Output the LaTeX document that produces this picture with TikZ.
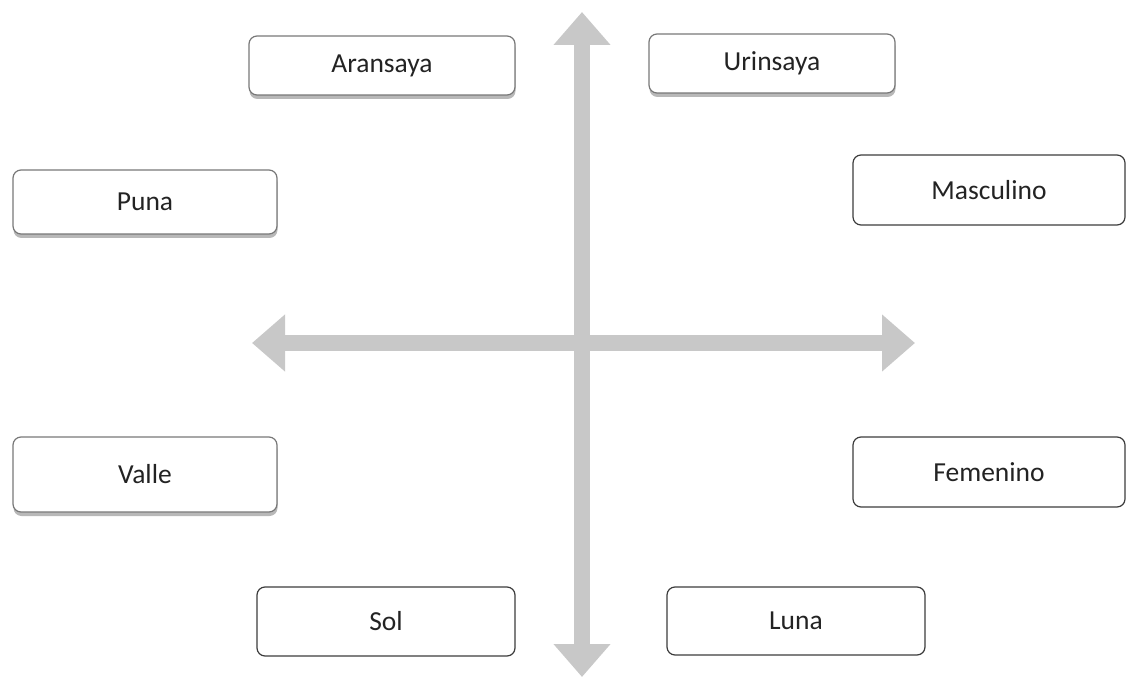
\documentclass[tikz,border=0pt]{standalone}
\usepackage{fontspec}
\setmainfont{Carlito}
\usetikzlibrary{arrows.meta,shadows}
\definecolor{arrowgray}{RGB}{200,200,200}
\definecolor{txt}{RGB}{35,35,35}
\tikzset{
  box/.style={draw, rounded corners=8pt, fill=white, line width=1.2pt, text=txt,
    font=\fontsize{27.5}{33}\selectfont, inner sep=0pt},
  shbox/.style={box, draw={rgb,255:red,120;green,120;blue,120},
    drop shadow={shadow xshift=0.5pt, shadow yshift=-4pt, fill=black, opacity=0.28}},
  plainbox/.style={box, draw={rgb,255:red,60;green,60;blue,60}},
  bigarrow/.style={draw=arrowgray, line width=16pt,
    {Triangle[width=55pt,length=33pt,fill=arrowgray]}-{Triangle[width=55pt,length=33pt,fill=arrowgray]}}
}
\begin{document}
\begin{tikzpicture}[x=1pt,y=-1pt]
\useasboundingbox (0,0) rectangle (1127,679);
% axes
\coordinate (top) at (582,12);
\coordinate (bottom) at (582,677);
\coordinate (left) at (252,343);
\coordinate (right) at (915,343);
\draw[bigarrow] (bottom) -- (top);
\draw[bigarrow] (left) -- (right);
% boxes
\node[shbox, minimum width=266pt, minimum height=59pt] (aransaya) at (382,65.5) {Aransaya};
\node[shbox, minimum width=246pt, minimum height=59pt] (urinsaya) at (772,63.5) {Urinsaya};
\node[shbox, minimum width=264pt, minimum height=64pt] (puna) at (145,202) {Puna};
\node[shbox, minimum width=264pt, minimum height=75pt] (valle) at (145,474.5) {Valle};
\node[plainbox, minimum width=272pt, minimum height=70pt] (masculino) at (989,190) {Masculino};
\node[plainbox, minimum width=272pt, minimum height=70pt] (femenino) at (989,472) {Femenino};
\node[plainbox, minimum width=258pt, minimum height=69pt] (sol) at (386,621.5) {Sol};
\node[plainbox, minimum width=258pt, minimum height=68pt] (luna) at (796,621) {Luna};
\end{tikzpicture}
\end{document}
